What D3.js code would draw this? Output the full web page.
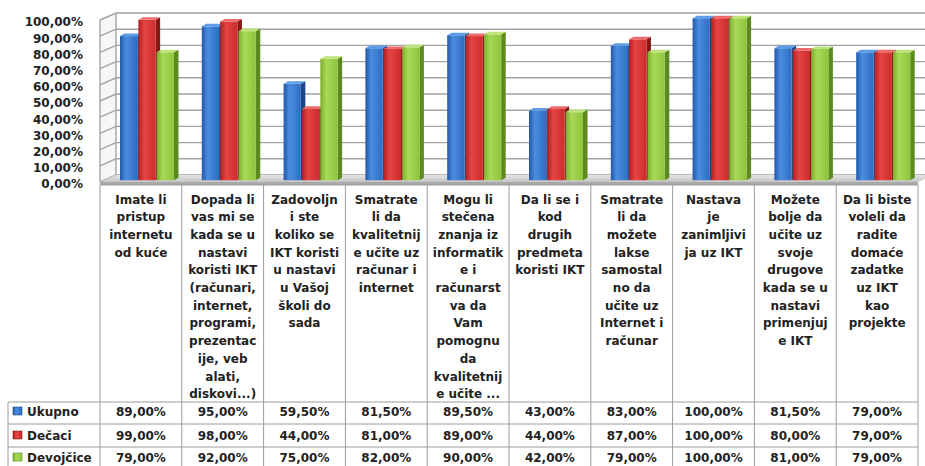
<!DOCTYPE html>
<html>
<head>
<meta charset="utf-8">
<script src="https://cdn.jsdelivr.net/npm/d3@7/dist/d3.min.js"></script>
<style>
  html, body { margin: 0; padding: 0; background: #fff; }
  svg { display: block; }
  text { font-family: "DejaVu Sans", sans-serif; font-weight: bold; fill: #222; }
</style>
</head>
<body>
<svg id="chart" width="925" height="466"></svg>
<script>
// Survey questions, wrapped as they appear in the data table header
const categoryLines = [
  ["Imate li", "pristup", "internetu", "od kuće"],
  ["Dopada  li", "vas mi se", "kada se u", "nastavi", "koristi IKT", "(računari,", "internet,", "programi,", "prezentac", "ije, veb", "alati,", "diskovi...)"],
  ["Zadovoljn", "i ste", "koliko se", "IKT koristi", "u nastavi", "u Vašoj", "školi do", "sada"],
  ["Smatrate", "li da", "kvalitetnij", "e učite uz", "računar i", "internet"],
  ["Mogu li", "stečena", "znanja iz", "informatik", "e i", "računarst", "va da", "Vam", "pomognu", "da", "kvalitetnij", "e učite ..."],
  ["Da li se i", "kod", "drugih", "predmeta", "koristi IKT"],
  ["Smatrate", "li da", "možete", "lakse", "samostal", "no da", "učite uz", "Internet i", "računar"],
  ["Nastava", "je", "zanimljivi", "ja uz IKT"],
  ["Možete", "bolje da", "učite uz", "svoje", "drugove", "kada se u", "nastavi", "primenjuj", "e IKT"],
  ["Da li biste", "voleli da", "radite", "domaće", "zadatke", "uz IKT", "kao", "projekte"]
];

const seriesNames = ["Ukupno", "Dečaci", "Devojčice"];
const ukupno    = [0.89, 0.95, 0.595, 0.815, 0.895, 0.43, 0.83, 1.00, 0.815, 0.79];
const decaci    = [0.99, 0.98, 0.44,  0.81,  0.89,  0.44, 0.87, 1.00, 0.80,  0.79];
const devojcice = [0.79, 0.92, 0.75,  0.82,  0.90,  0.42, 0.79, 1.00, 0.81,  0.79];
const yTicks = [0, 0.1, 0.2, 0.3, 0.4, 0.5, 0.6, 0.7, 0.8, 0.9, 1.0];

const seriesValues = [ukupno, decaci, devojcice];

// Face colours per series: front gradient stops, side, top
const palette = [
  { dark: "#2458a6", light: "#4a8de0", mid: "#2f6cc2", side: "#1c4789", top: "#5c9be6" },
  { dark: "#b22022", light: "#e64444", mid: "#cc2c2c", side: "#861818", top: "#ee6a6a" },
  { dark: "#7cae2e", light: "#a8d956", mid: "#8ec43e", side: "#5d8a1f", top: "#bde37a" }
];

const svg = d3.select("#chart");
const defs = svg.append("defs");

// Plot geometry (front plane of the 3D box, plus the depth vector to the back wall)
const plotLeft = 100, plotRight = 918;
const depth = { x: 16, y: -7 };
const x = d3.scaleBand().domain(d3.range(categoryLines.length)).range([plotLeft, plotRight]);
const inner = d3.scaleBand().domain(seriesNames).range([16, 70]).paddingInner(0.06);
const y = d3.scaleLinear().domain([0, 1]).range([182, 20]);
const yBack = v => y(v) + depth.y;
const fmt = d3.formatLocale({ decimal: ",", thousands: ".", grouping: [3], currency: ["", "€"] }).format(".2%");

// Gradients
palette.forEach((p, i) => {
  const g = defs.append("linearGradient").attr("id", "front" + i).attr("x1", 0).attr("x2", 1).attr("y1", 0).attr("y2", 0);
  g.append("stop").attr("offset", "0%").attr("stop-color", p.dark);
  g.append("stop").attr("offset", "35%").attr("stop-color", p.light);
  g.append("stop").attr("offset", "100%").attr("stop-color", p.mid);
});
const floorGrad = defs.append("linearGradient").attr("id", "floorGrad").attr("x1", 0).attr("x2", 0).attr("y1", 0).attr("y2", 1);
floorGrad.append("stop").attr("offset", "0%").attr("stop-color", "#e6e6e6");
floorGrad.append("stop").attr("offset", "100%").attr("stop-color", "#c4c4c4");

// Walls
const wallTop = y(1), wallBottom = y(0);
svg.append("polygon")
  .attr("points", [[plotLeft, wallTop], [plotLeft + depth.x, wallTop + depth.y], [plotLeft + depth.x, wallBottom + depth.y], [plotLeft, wallBottom]].join(" "))
  .attr("fill", "#f7f7f7");

const grid = svg.append("g").attr("fill", "none").attr("stroke", "#a3a3a3").attr("stroke-width", 1.4);
grid.selectAll("polyline").data(yTicks).join("polyline")
  .attr("points", d => [[plotLeft, y(d)], [plotLeft + depth.x, yBack(d)], [plotRight + depth.x, yBack(d)]].join(" "));
grid.append("line").attr("x1", plotLeft).attr("x2", plotLeft).attr("y1", y(1)).attr("y2", y(0));
grid.append("line").attr("x1", plotLeft + depth.x).attr("x2", plotLeft + depth.x).attr("y1", yBack(1)).attr("y2", yBack(0));

// Floor slab
svg.append("polygon")
  .attr("points", [[plotLeft, y(0)], [plotRight, y(0)], [plotRight + depth.x, yBack(0)], [plotLeft + depth.x, yBack(0)]].join(" "))
  .attr("fill", "url(#floorGrad)");
svg.append("rect").attr("x", plotLeft).attr("y", y(0)).attr("width", plotRight - plotLeft).attr("height", 3).attr("fill", "#a9a9a9");

// Y axis labels
const yAxis = svg.append("g")
  .attr("transform", "translate(85,2)")
  .call(d3.axisLeft(y).tickValues(yTicks).tickFormat(fmt).tickSize(0).tickPadding(2));
yAxis.select(".domain").remove();
yAxis.selectAll("text").attr("font-size", 12).attr("fill", "#333").style("font-family", "DejaVu Sans, sans-serif").style("font-weight", "bold");

// 3D columns
const barOff = { x: 4, y: -1.75 };
const barDepth = { x: 4.5, y: -2.6 };
const bars = svg.append("g");
categoryLines.forEach((_, ci) => {
  seriesNames.forEach((s, si) => {
    const v = seriesValues[si][ci];
    const p = palette[si];
    const w = inner.bandwidth();
    const x0 = x(ci) + inner(s) + barOff.x;
    const top = y(v) + barOff.y;
    const base = y(0) + barOff.y;
    const g = bars.append("g");
    g.append("polygon")
      .attr("points", [[x0 + w, top], [x0 + w + barDepth.x, top + barDepth.y], [x0 + w + barDepth.x, base + barDepth.y], [x0 + w, base]].join(" "))
      .attr("fill", p.side);
    g.append("rect").attr("x", x0).attr("y", top).attr("width", w).attr("height", base - top)
      .attr("fill", `url(#front${si})`);
    g.append("polygon")
      .attr("points", [[x0, top], [x0 + barDepth.x, top + barDepth.y], [x0 + w + barDepth.x, top + barDepth.y], [x0 + w, top]].join(" "))
      .attr("fill", p.top);
  });
});

// Data table
const headerTop = 185, headerBottom = 402;
const rowBounds = [402, 424, 447, 470];
const tableLeft = 8;
const tbl = svg.append("g").attr("stroke", "#9c9c9c").attr("stroke-width", 1).attr("fill", "none");
tbl.append("line").attr("x1", plotLeft).attr("x2", plotRight).attr("y1", headerTop).attr("y2", headerTop);
rowBounds.forEach(r => tbl.append("line").attr("x1", tableLeft).attr("x2", plotRight).attr("y1", r).attr("y2", r));
tbl.append("line").attr("x1", tableLeft).attr("x2", tableLeft).attr("y1", headerBottom).attr("y2", 470);
d3.range(categoryLines.length + 1).forEach(i => {
  const xx = i < categoryLines.length ? x(i) : plotRight;
  tbl.append("line").attr("x1", xx).attr("x2", xx).attr("y1", headerTop).attr("y2", 470);
});

// Header text
const header = svg.append("g").attr("font-size", 12).attr("text-anchor", "middle");
categoryLines.forEach((lines, ci) => {
  const t = header.append("text").attr("x", x(ci) + x.bandwidth() / 2).attr("y", 203.5);
  lines.forEach((ln, li) => {
    t.append("tspan").attr("x", x(ci) + x.bandwidth() / 2).attr("y", 203.5 + li * 17.7).text(ln);
  });
});

// Legend keys, series names and values
const rowCenters = [412, 436, 458];
seriesNames.forEach((s, si) => {
  const cy = rowCenters[si];
  const p = palette[si];
  svg.append("rect").attr("x", 13).attr("y", cy - 5).attr("width", 9).attr("height", 8)
    .attr("fill", `url(#front${si})`).attr("stroke", p.side).attr("stroke-width", 0.6);
  svg.append("text").attr("x", 27).attr("y", cy).attr("dy", "0.35em").attr("font-size", 12).text(s);
  seriesValues[si].forEach((v, ci) => {
    svg.append("text").attr("x", x(ci) + x.bandwidth() / 2).attr("y", cy).attr("dy", "0.35em")
      .attr("text-anchor", "middle").attr("font-size", 12).text(fmt(v));
  });
});
</script>
</body>
</html>
